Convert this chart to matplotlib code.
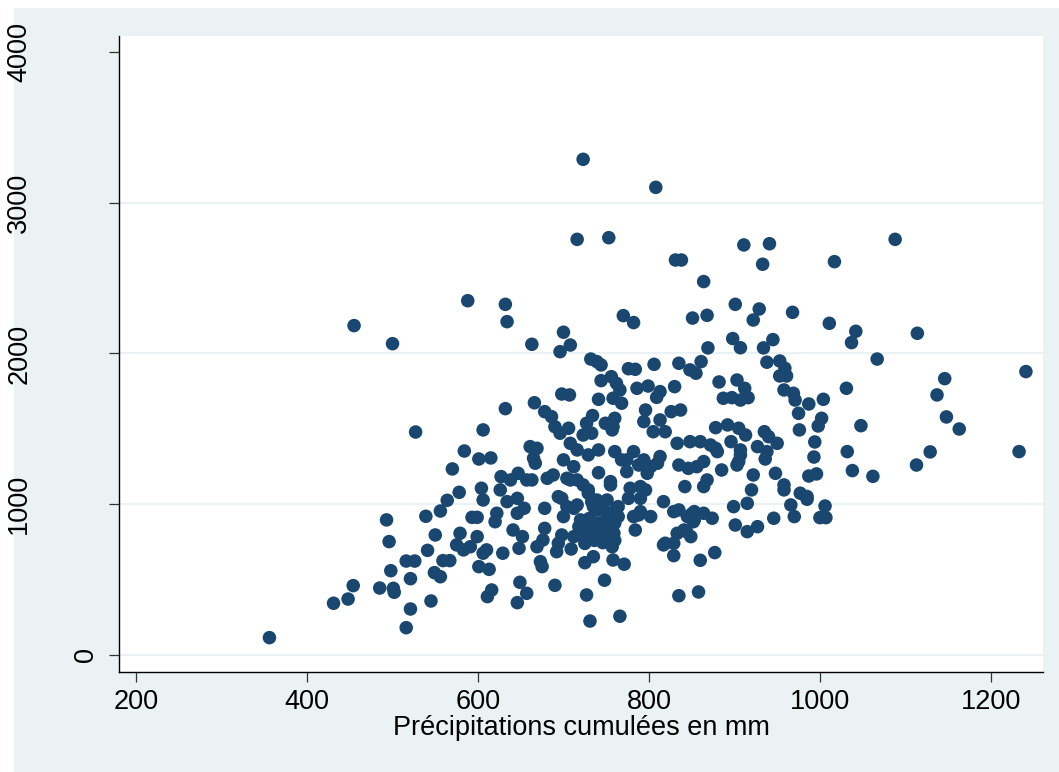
import matplotlib
matplotlib.use("Agg")
import matplotlib.pyplot as plt
from matplotlib.patches import Rectangle
import numpy as np

# precipitation (mm) / y value pairs
points = [
    (723, 3288), (716, 2757), (753, 2768), (588, 2350), (632, 2326), (634, 2211), (455, 2185),
    (500, 2065), (663, 2061), (700, 2141), (708, 2056), (696, 2012), (770, 2251), (782, 2205),
    (732, 1963), (739, 1946), (744, 1924), (776, 1899), (784, 1895), (756, 1846), (744, 1820),
    (762, 1802), (766, 1758), (786, 1769), (799, 1784), (698, 1731), (707, 1725), (741, 1696),
    (758, 1703), (768, 1670), (666, 1673), (632, 1634), (678, 1614), (686, 1581), (734, 1588),
    (760, 1570), (796, 1625), (794, 1548), (727, 1537), (749, 1537), (758, 1514), (706, 1504),
    (690, 1514),
    (808, 3102), (1088, 2757), (911, 2720), (941, 2728), (831, 2620), (838, 2620), (933, 2592),
    (1017, 2609), (864, 2477), (901, 2326), (929, 2295), (922, 2222), (851, 2235), (868, 2253),
    (968, 2273), (1011, 2200), (1042, 2147), (1037, 2072), (1114, 2134), (898, 2099), (907, 2038),
    (869, 2037), (945, 2092), (934, 2037), (1067, 1963), (1241, 1880), (1146, 1833), (1137, 1725),
    (1148, 1579), (1163, 1499), (938, 1942), (953, 1950), (959, 1902), (953, 1851), (961, 1851),
    (958, 1758), (969, 1736), (971, 1691), (987, 1665), (975, 1603), (1004, 1696), (1002, 1570),
    (998, 1519), (1031, 1769), (1048, 1521), (882, 1811), (903, 1824), (912, 1769), (887, 1703),
    (897, 1707), (907, 1691), (916, 1707), (861, 1946), (848, 1891), (855, 1869), (835, 1935),
    (830, 1780), (806, 1928), (813, 1747), (809, 1709), (826, 1614), (837, 1625), (813, 1559),
    (878, 1508), (892, 1526), (905, 1504), (935, 1481), (976, 1493),
    (356, 115), (431, 343), (448, 371), (454, 460), (485, 444), (501, 442), (502, 416), (521, 305),
    (516, 181), (521, 506), (498, 559), (516, 623), (526, 623), (496, 752), (493, 896), (527, 1479),
    (545, 358), (541, 694), (550, 796), (539, 920), (556, 955), (564, 1026), (578, 1079), (570, 1234),
    (584, 1353), (606, 1493), (601, 1300), (615, 1307), (549, 546), (556, 519), (559, 626), (567, 626),
    (575, 730), (583, 697), (579, 807), (599, 785), (593, 913), (599, 913), (591, 718), (606, 675),
    (610, 697), (604, 1106), (606, 1028), (622, 940), (620, 884), (601, 586), (613, 568), (611, 387),
    (616, 431), (646, 347), (657, 409), (649, 482), (629, 675), (641, 829), (652, 785), (648, 708),
    (669, 718), (676, 763), (675, 586), (673, 619), (646, 940), (654, 973), (646, 1039), (634, 1017),
    (626, 1095), (627, 1183), (638, 1161), (647, 1205), (657, 1161), (663, 1161), (681, 1172),
    (661, 1382), (669, 1371), (667, 1272), (665, 1305), (678, 973), (678, 840),
    (731, 225), (766, 257), (727, 398), (748, 496), (690, 462), (835, 393), (858, 418), (860, 628),
    (877, 679), (829, 659), (817, 730), (771, 602), (758, 630), (725, 612), (735, 652), (709, 703),
    (692, 685), (694, 741), (698, 796), (712, 785), (720, 796), (725, 851), (733, 840), (739, 807),
    (743, 785), (749, 774), (757, 718), (759, 807), (755, 851), (760, 874), (753, 907), (739, 874),
    (718, 851), (720, 896), (739, 962), (751, 940), (755, 896), (764, 918), (762, 973), (747, 1006),
    (735, 984), (729, 1073), (733, 1017), (712, 973), (700, 918), (698, 1039), (755, 1150), (764, 984),
    (751, 1028), (739, 1028), (716, 1161), (723, 1128), (729, 1095), (712, 1249), (708, 1161),
    (704, 1172), (741, 1209), (755, 1128), (729, 1327), (741, 1360), (760, 1349), (768, 1294),
    (774, 1216), (774, 1294), (782, 1349), (788, 1260), (794, 1294), (802, 1249), (810, 1272),
    (813, 1316), (798, 1205), (778, 1106), (790, 1117), (796, 1095), (776, 1039), (790, 1039),
    (782, 918), (784, 829), (788, 929), (802, 918), (817, 1017), (829, 951), (835, 962), (845, 918),
    (853, 896), (864, 940), (874, 907), (853, 951), (841, 829), (849, 785), (833, 807), (829, 741),
    (833, 1404), (835, 1260), (846, 1238), (848, 1415), (860, 1415), (872, 1393), (878, 1371),
    (880, 1349), (885, 1227), (864, 1283), (868, 1161), (864, 1117), (842, 1117), (856, 1249),
    (913, 1459), (896, 1415), (907, 1360), (905, 1283), (927, 1382), (940, 1448), (938, 1349),
    (950, 1404), (922, 1194), (920, 1095), (915, 1006), (899, 984), (901, 862), (915, 818), (927, 851),
    (946, 907), (970, 918), (966, 995), (958, 1095), (958, 1128), (977, 1073), (985, 1051),
    (696, 1471), (708, 1404), (716, 1360), (723, 1459), (733, 1471), (757, 1493), (700, 1294),
    (688, 1194), (694, 1050), (704, 984), (716, 995), (805, 1481), (819, 1481), (936, 1300),
    (948, 1205), (850, 935), (852, 884), (844, 818), (819, 741), (790, 951), (907, 1327), (903, 1260),
    (994, 1413), (993, 1313), (987, 1187), (996, 1201), (985, 1033), (1006, 988), (1000, 911),
    (1007, 911), (1032, 1349), (1038, 1223), (1062, 1185), (1113, 1260), (1129, 1347), (1233, 1349),
    (745, 880), (730, 905), (748, 862), (742, 830), (728, 790), (752, 800), (736, 760), (746, 745),
    (725, 740), (760, 760),
]
precip = [p[0] for p in points]
valeur = [p[1] for p in points]

xticks = [200, 400, 600, 800, 1000, 1200]
yticks = [0, 1000, 2000, 3000, 4000]

W, H = 1059, 772
fig = plt.figure(figsize=(W / 100, H / 100), dpi=100, facecolor="white")
fig.patches.append(Rectangle((14 / W, 0), 1 - 14 / W, 1 - 8 / H, transform=fig.transFigure,
                             facecolor="#eaf2f3", edgecolor="none", zorder=-10))

ax = fig.add_axes([119 / W, (H - 672) / H, (1043 - 119) / W, (672 - 36) / H])
ax.set_facecolor("white")

ax.scatter(precip, valeur, s=95, color="#1a476f", edgecolors="none", zorder=3)

ax.set_xlim(180, 1261)
ax.set_ylim(-113, 4106)

ax.set_xticks(xticks)
ax.set_yticks(yticks)
ax.set_yticklabels([str(v) for v in yticks], rotation=90, va="center")

for s in ["top", "right"]:
    ax.spines[s].set_visible(False)
for s in ["left", "bottom"]:
    ax.spines[s].set_linewidth(1.0)
    ax.spines[s].set_color("black")

fs = 19.5
ax.tick_params(axis="both", direction="out", length=7.5, width=0.9, colors="#333333",
               labelsize=fs, labelcolor="black")
ax.tick_params(axis="x", pad=5)
for t in ax.yaxis.get_major_ticks():
    t.set_pad(55)
ax.yaxis.get_major_ticks()[0].set_pad(7)

ax.yaxis.grid(True, color="#eaf2f3", linewidth=1.5)
ax.yaxis.get_gridlines()[-1].set_visible(False)
ax.set_axisbelow(True)

for lab in ax.get_xticklabels() + ax.get_yticklabels():
    lab.set_fontfamily("Liberation Sans")

ax.set_xlabel("Précipitations cumulées en mm", fontsize=fs, fontfamily="Liberation Sans", labelpad=0)

fig.savefig("out.png", dpi=100, facecolor=fig.get_facecolor())
